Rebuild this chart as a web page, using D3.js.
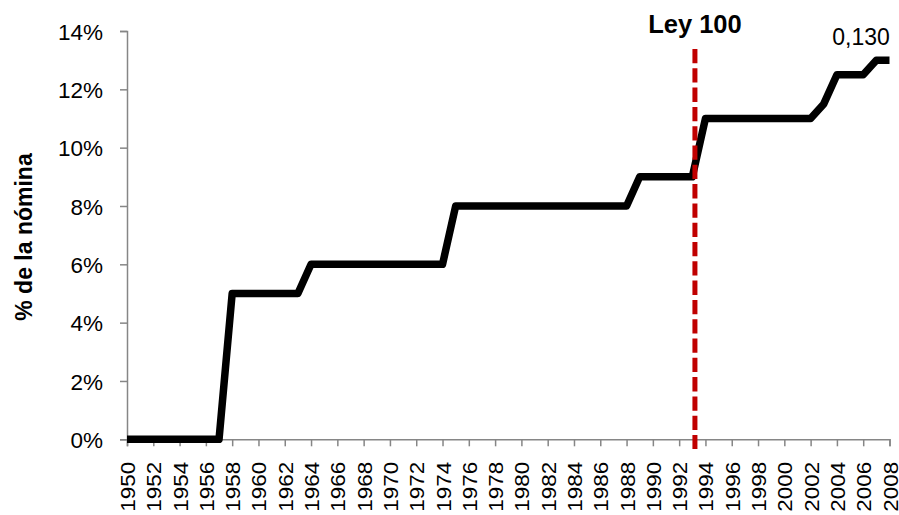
<!DOCTYPE html>
<html><head><meta charset="utf-8">
<script src="https://cdn.jsdelivr.net/npm/d3@7"></script>
<style>body{margin:0;background:#fff}svg{display:block}</style>
</head><body>
<svg id="c" width="899" height="515"></svg>
<script>
const years = d3.range(1950, 2009);
const values = [
  0,0,0,0,0,0,0,0,            // 1950-1957
  0.05,0.05,0.05,0.05,0.05,0.05, // 1958-1963
  0.06,0.06,0.06,0.06,0.06,0.06,0.06,0.06,0.06,0.06,0.06, // 1964-1974
  0.08,0.08,0.08,0.08,0.08,0.08,0.08,0.08,0.08,0.08,0.08,0.08,0.08,0.08, // 1975-1988
  0.09,0.09,0.09,0.09,0.09, // 1989-1993
  0.11,0.11,0.11,0.11,0.11,0.11,0.11,0.11,0.11, // 1994-2002
  0.115, // 2003
  0.125,0.125,0.125, // 2004-2006
  0.13,0.13 // 2007-2008
];
const yTicks = [0,0.02,0.04,0.06,0.08,0.10,0.12,0.14];
const xTickYears = d3.range(1950, 2009, 2);
const leyYear = 1993.2;
const leyLabel = "Ley 100";
const endLabel = "0,130";
const yTitle = "% de la nómina";

const svg = d3.select("#c");
const x = d3.scaleLinear().domain([1950, 2008]).range([127, 889.5]);
const y = d3.scaleLinear().domain([0, 0.14]).range([439.3, 31]);
const axisColor = "#868686";
const font = "'Liberation Sans', Arial, sans-serif";

// Y axis
const ya = svg.append("g").attr("transform", "translate(127,0)")
  .call(d3.axisLeft(y).tickValues(yTicks).tickSize(7).tickPadding(17)
    .tickFormat(d => Math.round(d*100) + "%"));
ya.select(".domain").attr("stroke", axisColor).attr("stroke-width", 1.5);
ya.selectAll(".tick line").attr("stroke", axisColor).attr("stroke-width", 1.5);
ya.selectAll(".tick text").attr("font-family", font).attr("font-size", 22.5)
  .attr("fill", "#000").attr("dy", "0.36em");

// X axis
const xa = svg.append("g").attr("transform", "translate(0,439.3)")
  .call(d3.axisBottom(x).tickValues(xTickYears).tickSize(7).tickFormat(d3.format("d")));
xa.select(".domain").attr("stroke", axisColor).attr("stroke-width", 1.5);
xa.selectAll(".tick line").attr("stroke", axisColor).attr("stroke-width", 1.5);
xa.selectAll(".tick text").attr("font-family", font).attr("font-size", 21)
  .attr("fill", "#000").attr("text-anchor", "end")
  .attr("y", 0).attr("dy", 0)
  .attr("transform", "translate(7.5,22.5) rotate(-90) scale(1.07,1)");

// line
const line = d3.line().x((d, i) => x(years[i])).y(d => y(d));
svg.append("path").datum(values)
  .attr("d", line).attr("fill", "none").attr("stroke", "#000")
  .attr("stroke-width", 7.5).attr("stroke-linejoin", "round").attr("stroke-linecap", "butt");

// Ley 100 marker
svg.append("line")
  .attr("x1", x(leyYear)).attr("x2", x(leyYear))
  .attr("y1", 49).attr("y2", 449)
  .attr("stroke", "#C00000").attr("stroke-width", 5)
  .attr("stroke-dasharray", "14.3,5");
svg.append("text").attr("x", x(leyYear)).attr("y", 33)
  .attr("text-anchor", "middle").attr("font-family", font)
  .attr("font-weight", "bold").attr("font-size", 25.5).text(leyLabel);

// end label
svg.append("text").attr("x", 861).attr("y", 45)
  .attr("text-anchor", "middle").attr("font-family", font)
  .attr("font-size", 23).text(endLabel);

// y title
svg.append("text").attr("transform", "translate(32,237) rotate(-90)")
  .attr("text-anchor", "middle").attr("font-family", font)
  .attr("font-weight", "bold").attr("font-size", 23).text(yTitle);
</script>
</body></html>
